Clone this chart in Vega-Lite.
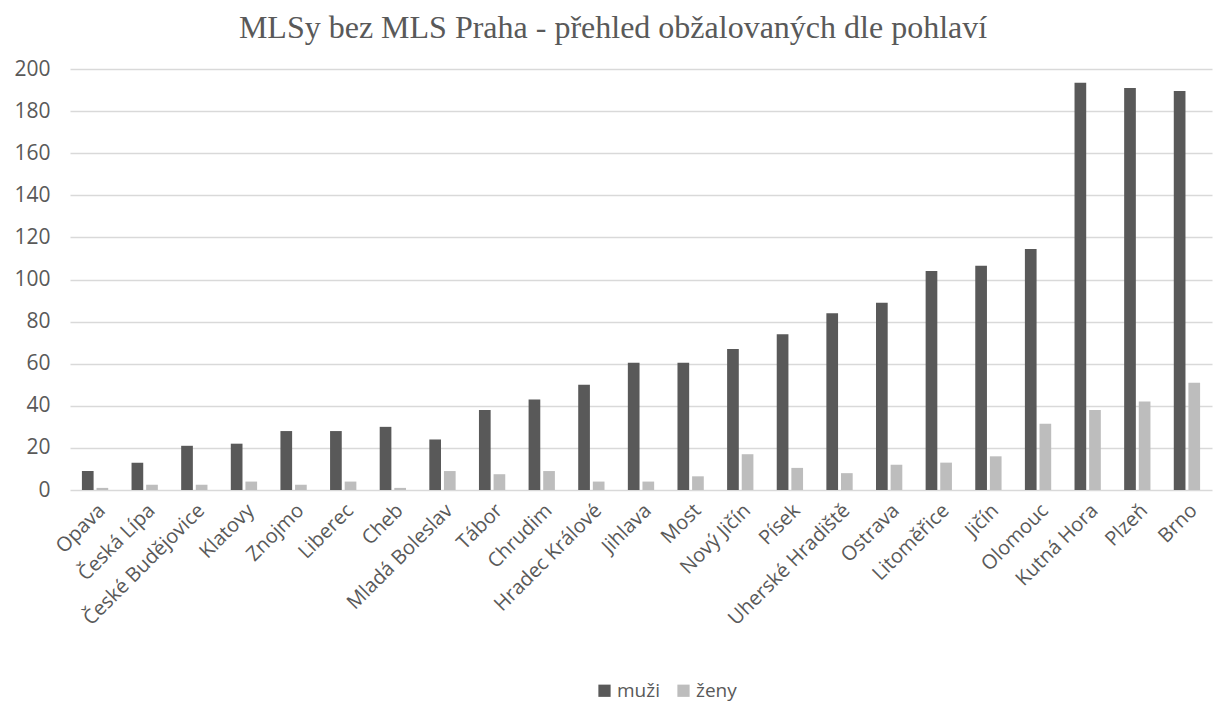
{
  "$schema": "https://vega.github.io/schema/vega-lite/v6.json",
  "autosize": {"type": "none"},
  "width": 1142,
  "height": 421,
  "padding": {"left": 70, "top": 69, "right": 2, "bottom": 219},
  "background": "white",
  "title": {
    "text": "MLSy bez MLS Praha - přehled obžalovaných dle pohlaví",
    "font": "Liberation Serif",
    "fontSize": 32,
    "fontWeight": "normal",
    "color": "#595959",
    "anchor": "middle",
    "dx": -28,
    "offset": 13
  },
  "data": {
    "values": [
      {"mesto": "Opava", "pohlavi": "muži", "pocet": 9},
      {"mesto": "Opava", "pohlavi": "ženy", "pocet": 1},
      {"mesto": "Česká Lípa", "pohlavi": "muži", "pocet": 13},
      {"mesto": "Česká Lípa", "pohlavi": "ženy", "pocet": 2.5},
      {"mesto": "České Budějovice", "pohlavi": "muži", "pocet": 21},
      {"mesto": "České Budějovice", "pohlavi": "ženy", "pocet": 2.5},
      {"mesto": "Klatovy", "pohlavi": "muži", "pocet": 22},
      {"mesto": "Klatovy", "pohlavi": "ženy", "pocet": 4},
      {"mesto": "Znojmo", "pohlavi": "muži", "pocet": 28},
      {"mesto": "Znojmo", "pohlavi": "ženy", "pocet": 2.5},
      {"mesto": "Liberec", "pohlavi": "muži", "pocet": 28},
      {"mesto": "Liberec", "pohlavi": "ženy", "pocet": 4},
      {"mesto": "Cheb", "pohlavi": "muži", "pocet": 30},
      {"mesto": "Cheb", "pohlavi": "ženy", "pocet": 1},
      {"mesto": "Mladá Boleslav", "pohlavi": "muži", "pocet": 24},
      {"mesto": "Mladá Boleslav", "pohlavi": "ženy", "pocet": 9},
      {"mesto": "Tábor", "pohlavi": "muži", "pocet": 38},
      {"mesto": "Tábor", "pohlavi": "ženy", "pocet": 7.5},
      {"mesto": "Chrudim", "pohlavi": "muži", "pocet": 43},
      {"mesto": "Chrudim", "pohlavi": "ženy", "pocet": 9},
      {"mesto": "Hradec Králové", "pohlavi": "muži", "pocet": 50},
      {"mesto": "Hradec Králové", "pohlavi": "ženy", "pocet": 4},
      {"mesto": "Jihlava", "pohlavi": "muži", "pocet": 60.5},
      {"mesto": "Jihlava", "pohlavi": "ženy", "pocet": 4},
      {"mesto": "Most", "pohlavi": "muži", "pocet": 60.5},
      {"mesto": "Most", "pohlavi": "ženy", "pocet": 6.5},
      {"mesto": "Nový Jičín", "pohlavi": "muži", "pocet": 67},
      {"mesto": "Nový Jičín", "pohlavi": "ženy", "pocet": 17},
      {"mesto": "Písek", "pohlavi": "muži", "pocet": 74},
      {"mesto": "Písek", "pohlavi": "ženy", "pocet": 10.5},
      {"mesto": "Uherské Hradiště", "pohlavi": "muži", "pocet": 84},
      {"mesto": "Uherské Hradiště", "pohlavi": "ženy", "pocet": 8},
      {"mesto": "Ostrava", "pohlavi": "muži", "pocet": 89},
      {"mesto": "Ostrava", "pohlavi": "ženy", "pocet": 12},
      {"mesto": "Litoměřice", "pohlavi": "muži", "pocet": 104},
      {"mesto": "Litoměřice", "pohlavi": "ženy", "pocet": 13},
      {"mesto": "Jičín", "pohlavi": "muži", "pocet": 106.5},
      {"mesto": "Jičín", "pohlavi": "ženy", "pocet": 16},
      {"mesto": "Olomouc", "pohlavi": "muži", "pocet": 114.5},
      {"mesto": "Olomouc", "pohlavi": "ženy", "pocet": 31.5},
      {"mesto": "Kutná Hora", "pohlavi": "muži", "pocet": 193.5},
      {"mesto": "Kutná Hora", "pohlavi": "ženy", "pocet": 38},
      {"mesto": "Plzeň", "pohlavi": "muži", "pocet": 191},
      {"mesto": "Plzeň", "pohlavi": "ženy", "pocet": 42},
      {"mesto": "Brno", "pohlavi": "muži", "pocet": 189.5},
      {"mesto": "Brno", "pohlavi": "ženy", "pocet": 51}
    ]
  },
  "mark": {"type": "bar"},
  "encoding": {
    "x": {
      "field": "mesto",
      "type": "nominal",
      "sort": null,
      "scale": {"paddingInner": 0.47, "paddingOuter": 0.24},
      "axis": {
        "title": null,
        "labelAngle": -45,
        "labelFont": "Open Sans",
        "labelFontSize": 20,
        "labelColor": "#595959",
        "ticks": false,
        "domain": false,
        "labelPadding": 10
      }
    },
    "xOffset": {
      "field": "pohlavi",
      "type": "nominal",
      "scale": {"paddingInner": 0.2}
    },
    "y": {
      "field": "pocet",
      "type": "quantitative",
      "scale": {"domain": [0, 200], "nice": false},
      "axis": {
        "title": null,
        "values": [0, 20, 40, 60, 80, 100, 120, 140, 160, 180, 200],
        "labelFont": "Open Sans",
        "labelFontSize": 21,
        "labelColor": "#595959",
        "ticks": false,
        "domain": false,
        "labelPadding": 20,
        "gridColor": "#d9d9d9",
        "gridWidth": 1.5
      }
    },
    "color": {
      "field": "pohlavi",
      "type": "nominal",
      "scale": {"domain": ["muži", "ženy"], "range": ["#595959", "#bdbdbd"]},
      "legend": {
        "title": null,
        "orient": "none",
        "direction": "horizontal",
        "legendX": 525,
        "legendY": 612,
        "symbolType": "square",
        "symbolSize": 150,
        "symbolStrokeWidth": 0,
        "labelFont": "Open Sans",
        "labelFontSize": 19,
        "labelColor": "#595959",
        "columnPadding": 14,
        "labelOffset": 3
      }
    }
  },
  "config": {"view": {"stroke": null}}
}
